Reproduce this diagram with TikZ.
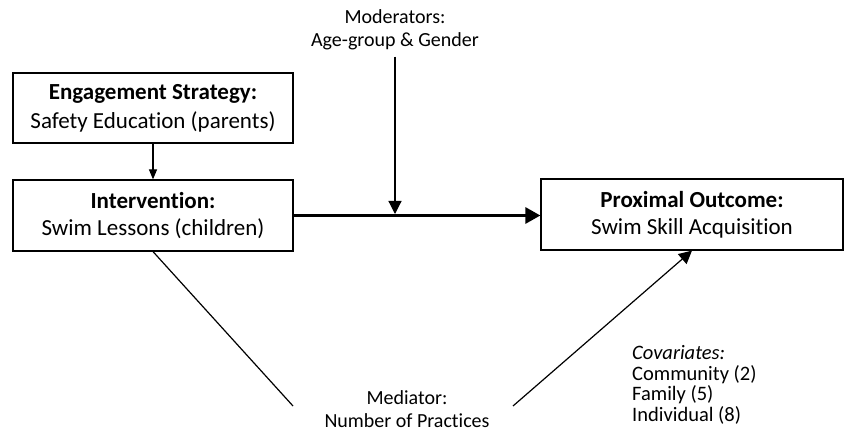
\documentclass[tikz,border=0pt]{standalone}
\usepackage{fontspec}
\setmainfont{Carlito}[Ligatures=NoCommon]
\usepackage{tikz}
\usetikzlibrary{arrows.meta,positioning,calc}

\begin{document}
\begin{tikzpicture}[x=1pt,y=-1pt,
    box/.style={draw,line width=1.2pt,minimum width=280pt,minimum height=70pt,align=center,inner sep=0pt,font=\fontsize{23}{27}\selectfont},
    lbl/.style={align=center,inner sep=0pt,font=\fontsize{20}{23.5}\selectfont},
    thinarrow/.style={line width=1.2pt,-{Triangle[length=13pt,width=13pt]}},
    boldarrow/.style={line width=3pt,-{Triangle[length=15pt,width=16pt]}}]
\useasboundingbox (0,0) rectangle (844,433);

\node[box] (engage) at (153,108) {\textbf{Engagement Strategy:}\\[2pt] Safety Education (parents)};
\node[box,minimum height=71pt] (interv) at (153,215.5) {\textbf{Intervention:}\\ Swim Lessons (children)};
\node[box,minimum width=302pt,minimum height=71pt] (outcome) at (692,214.5) {\textbf{Proximal Outcome:}\\ Swim Skill Acquisition};

\node[lbl] (moder) at (395,30) {Moderators:\\ Age-group \& Gender};
\node[lbl] (mediator) at (407,409) {Mediator:\\ Number of Practices};
\node[lbl,align=left,anchor=west,font=\fontsize{20.5}{20.7}\selectfont] (covar) at (632,385) {\textit{Covariates:}\\ Community (2)\\ Family (5)\\ Individual (8)};

\coordinate (modtip) at (395,214);
\coordinate (medL) at (293,406);
\coordinate (medR) at (513,406);

\draw[line width=1.2pt,-{Triangle[length=10pt,width=8pt]}] (engage) -- (interv);
\draw[boldarrow] (interv.east) -- (interv.east -| outcome.west);
\draw[thinarrow] ($(moder.south)+(0,6)$) -- (modtip);
\draw[line width=1.2pt] (interv.south) -- (medL);
\draw[thinarrow] (medR) -- (outcome.south);
\end{tikzpicture}
\end{document}
